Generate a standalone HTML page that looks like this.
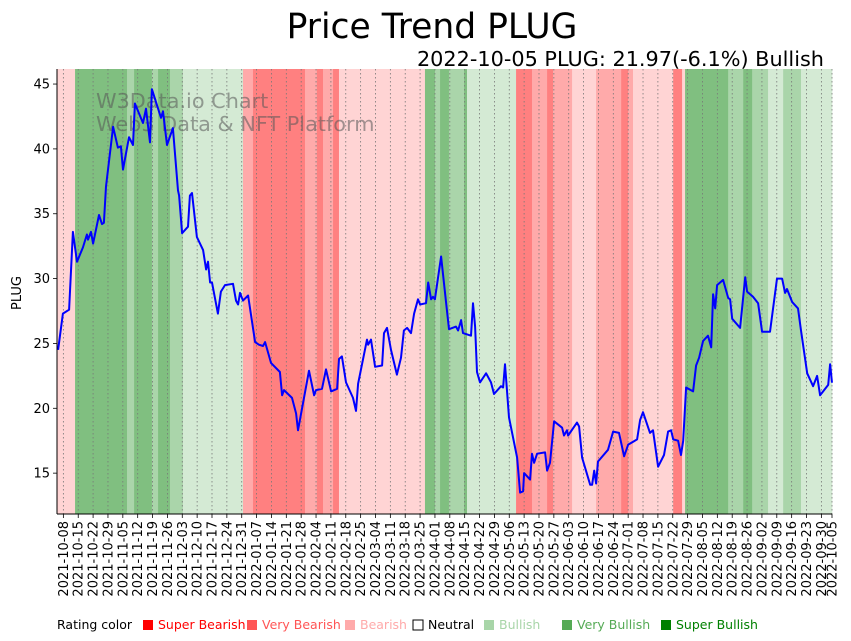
<!DOCTYPE html>
<html><head><meta charset="utf-8">
<style>
html,body{margin:0;padding:0;background:#fff;}
svg{display:block;font-family:"DejaVu Sans","Liberation Sans",sans-serif;}
</style></head>
<body>
<svg id="chart" width="851" height="641" viewBox="0 0 851 641" xmlns="http://www.w3.org/2000/svg">
  <text x="432" y="38" font-size="34.5" text-anchor="middle" fill="#000">Price Trend PLUG</text>
  <text x="824" y="66" font-size="20.8" text-anchor="end" fill="#000">2022-10-05 PLUG: 21.97(-6.1%) Bullish</text>
  <g id="bands"></g>
  <g id="grid"></g>
  <text x="96" y="108" font-size="20.8" fill="#555" fill-opacity="0.55">W3Data.io Chart</text>
  <text x="96" y="131" font-size="20.8" fill="#555" fill-opacity="0.55">Web3 Data &amp; NFT Platform</text>
  <path id="priceLine" fill="none" stroke="#0000ff" stroke-width="2" stroke-linejoin="round"/>
  <g id="axes"></g>
  <text transform="translate(21,293) rotate(-90)" font-size="13" text-anchor="middle">PLUG</text>
  <g id="legend" font-size="12.5"></g>
</svg>
<script>
const days = [0.5,2.8,5.7,7.5,9.4,12.2,14.1,14.6,16,17,19.8,21.2,22.1,23.1,26.4,28.7,30.1,31.1,33.9,35.8,36.7,40.5,41.9,43.8,44.7,49,49.9,51.8,54.6,57,57.5,58.9,61.7,62.6,63.6,65.9,68.8,70.2,71.1,72.1,73,75.8,77.2,79.1,82.9,84.3,85.3,86.2,87.6,90,93.3,95.1,97,98,100.8,105,106,106.9,110.7,112.6,113.5,118.7,121.1,122,124.8,126.7,129.1,131.9,132.8,134.2,136.1,139.4,140.8,141.8,146,146.5,147.9,149.8,153.1,154,155.4,157.3,160.1,162,163.4,164.9,166.7,168.2,170,171,173.8,174.8,176.2,177.1,178,180.9,183.2,184.6,187.9,188.9,190.3,191.2,195,195.9,196.9,197.8,199.2,202.1,204.4,205.8,209.1,210.1,211,212.9,216.7,218.1,219.5,220,222.8,223.7,224.7,226.1,229.9,230.8,232.2,234.1,237.9,238.8,240.2,240.7,244.9,245.9,247.3,251.1,252,253,253.9,254.8,259.5,261.9,264.7,267.1,269,273.2,274.6,276,279.3,280.7,283.1,285.9,287.8,289.2,290.2,292.5,293.9,294.9,296.3,299.6,301,302.4,304.3,306.6,308.1,309,310,310.9,313.7,316.1,317,318,321.2,321.7,324.1,325,327.8,330.2,332.1,335.8,339.1,341.5,342.9,343.8,346.2,349,350.4,353.3,356.1,358,359.4,363.2,364.1,365];
const prices = [24.5,27.3,27.6,33.6,31.3,32.4,33.4,33,33.6,32.7,34.9,34.2,34.3,37.1,41.7,40.1,40.2,38.4,40.9,40.3,43.5,42,43.1,40.5,44.6,42.4,42.9,40.3,41.6,36.8,36.4,33.5,34,36.4,36.6,33.2,32.2,30.7,31.3,29.7,29.7,27.3,29,29.5,29.6,28.3,28,28.9,28.3,28.7,25.1,24.9,24.8,25.1,23.5,22.8,21,21.4,20.8,19.6,18.3,22.9,21,21.4,21.5,23,21.3,21.5,23.8,24,22,20.8,19.8,21.9,25.3,24.9,25.3,23.2,23.3,25.8,26.2,24.5,22.6,23.9,26,26.2,25.8,27.3,28.4,28,28.1,29.7,28.4,28.6,28.4,31.7,28.2,26.1,26.3,26,26.8,25.8,25.6,28.1,26.3,22.8,22,22.7,22,21.1,21.7,21.6,23.4,19.3,16.2,13.5,13.6,15,14.5,16.5,15.8,16.5,16.6,15.2,15.8,19,18.5,17.9,18.3,17.9,18.9,18.6,16.2,14.1,14.1,15.2,14.2,15.9,16.8,18.2,18.1,16.3,17.2,17.6,19.1,19.7,18.1,18.3,15.5,16.4,18.2,18.3,17.6,17.5,16.4,17.5,21.6,21.3,23.3,23.9,25.2,25.6,24.7,28.8,27.7,29.5,29.9,28.5,28.4,26.9,26.3,26.2,30.1,29,28.6,28.1,25.9,25.9,30,30,28.9,29.2,28.2,27.7,26,22.7,21.7,22.5,21,21.8,23.4,21.97];
const bandStart = [0,8.5,33,36.3,44.7,47.6,53.2,59.3,87.6,92.3,116.8,122.4,125.3,130,132.8,173.3,178,180.4,184.6,191.7,193.1,216.2,223.7,230.8,233.6,242.6,253.9,265.7,269,271.3,290.2,294.4,295.8,316.1,323.2,327.4,334.9,342,350.4];
const bandEnd = [8.5,33,36.3,44.7,47.6,53.2,59.3,87.6,92.3,116.8,122.4,125.3,130,132.8,173.3,178,180.4,184.6,191.7,193.1,216.2,223.7,230.8,233.6,242.6,253.9,265.7,269,271.3,290.2,294.4,295.8,316.1,323.2,327.4,334.9,342,350.4,365];
const bandRating = [-1,3,2,3,2,3,2,1,-2,-3,-2,-3,-2,-3,-1,3,2,3,2,3,1,-3,-2,-3,-2,-1,-2,-3,-2,-1,-3,-1,3,2,3,2,1,2,1];
const yTicks = [15,20,25,30,35,40,45];
const legendLabels = ["Super Bearish","Very Bearish","Bearish","Neutral","Bullish","Very Bullish","Super Bullish"];

const X0=57, X1=832, Y0=69, Y1=514;
const D0=0, D1=365, P0=11.85, P1=46.16;
const startDate = new Date(Date.UTC(2021,9,5));
function xs(d){return X0+(d-D0)/(D1-D0)*(X1-X0);}
function ys(p){return Y1-(p-P0)/(P1-P0)*(Y1-Y0);}
const NS="http://www.w3.org/2000/svg";
function mk(tag,attrs,parent){const e=document.createElementNS(NS,tag);for(const k in attrs)e.setAttribute(k,attrs[k]);parent.appendChild(e);return e;}
const bandColor={"-3":"#ff8080","-2":"#ffaaaa","-1":"#ffd4d4","0":"#ffffff","1":"#d4ead4","2":"#aad5aa","3":"#80bf80"};

const gb=document.getElementById('bands');
for(let i=0;i<bandStart.length;i++){
  const r=mk('rect',{x:xs(bandStart[i]),y:Y0,width:xs(bandEnd[i])-xs(bandStart[i])+0.3,height:Y1-Y0,fill:bandColor[bandRating[i]]},gb);
  
  
}

let dstr='';
for(let i=0;i<prices.length;i++){dstr+=(i?'L':'M')+xs(days[i]).toFixed(1)+','+ys(prices[i]).toFixed(1);}
document.getElementById('priceLine').setAttribute('d',dstr);

const gg=document.getElementById('grid'), ga=document.getElementById('axes');
function fmt(d){const dt=new Date(startDate.getTime()+d*86400000);return dt.toISOString().slice(0,10);}
const tickDays=[];
for(let d=3;d<=D1-3;d+=7)tickDays.push(d);
tickDays.push(365);
tickDays.forEach(d=>{
  const x=xs(d);
  const gl=mk('line',{x1:x,x2:x,y1:Y0,y2:Y1,stroke:'#777','stroke-width':0.8,'stroke-dasharray':'1.5,2.5'},gg);
  
  
  mk('line',{x1:x,x2:x,y1:Y1,y2:Y1+4,stroke:'#000','stroke-width':0.8},ga);
  const t=mk('text',{transform:`translate(${x+4.5},${Y1+7}) rotate(-90)`,'font-size':13,'text-anchor':'end'},ga);
  
  
  t.textContent=fmt(d);
});
yTicks.forEach(v=>{
  const y=ys(v);
  mk('line',{x1:X0-4,x2:X0,y1:y,y2:y,stroke:'#000','stroke-width':0.8},ga);
  const t=mk('text',{x:X0-7,y:y+4.5,'font-size':13,'text-anchor':'end'},ga);
  
  
  t.textContent=v;
});
mk('line',{x1:X0,x2:X0,y1:Y0,y2:Y1,stroke:'#000','stroke-width':1},ga);
mk('line',{x1:X0,x2:X1,y1:Y1,y2:Y1,stroke:'#000','stroke-width':1},ga);

const lg=document.getElementById('legend');
const lcol=["#ff0000","#ff5555","#ffaaaa","none","#a8d5a8","#55aa55","#008000"];
const ltxt=["#ff0000","#ff5555","#ffaaaa","#000","#a8d5a8","#55aa55","#008000"];
const lx=[143,247,345,413,484,562,661];
const t0=mk('text',{x:57,y:629,fill:'#000'},lg);


t0.textContent='Rating color';
legendLabels.forEach((lab,i)=>{
  const r=mk('rect',{x:lx[i],y:620,width:10,height:10,fill:lcol[i]==='none'?'#fff':lcol[i],stroke:lcol[i]==='none'?'#000':'none','stroke-width':1},lg);
  
  
  const t=mk('text',{x:lx[i]+15,y:629,fill:ltxt[i]},lg);
  
  
  t.textContent=lab;
});
</script>
</body></html>
